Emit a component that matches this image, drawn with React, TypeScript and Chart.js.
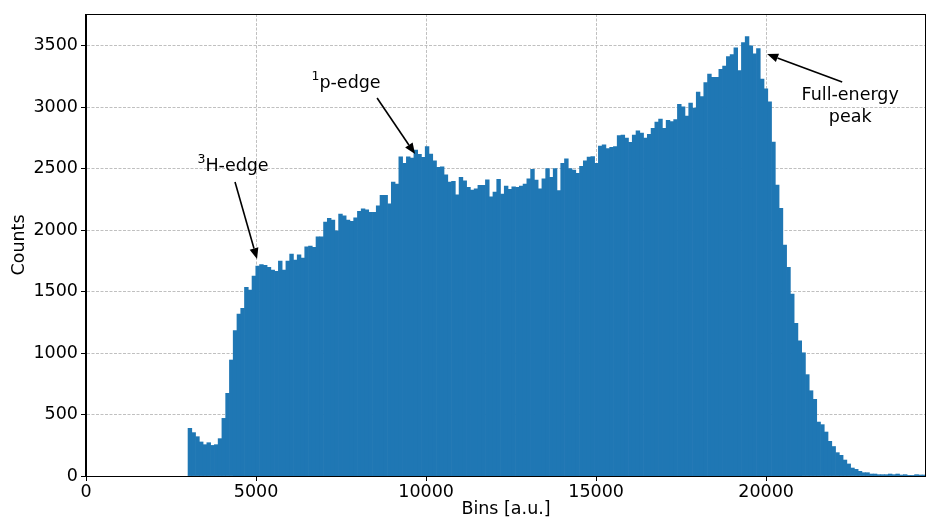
import React, { useEffect, useRef } from 'react';
import { Chart, registerables } from 'chart.js';

Chart.register(...registerables);

// Histogram bins (bin edges start at binStart, constant width)
const binStart = 3000;
const binWidth = 110.7;
const counts = [
  388, 353, 320, 277, 255, 271, 249, 255, 304, 469,
  673, 944, 1183, 1318, 1364, 1535, 1513, 1627, 1709, 1720,
  1714, 1698, 1676, 1665, 1750, 1676, 1750, 1806, 1757, 1801,
  1774, 1866, 1871, 1861, 1947, 1947, 2067, 2097, 2083, 1996,
  2132, 2118, 2083, 2072, 2102, 2154, 2175, 2167, 2145, 2145,
  2199, 2284, 2284, 2216, 2392, 2376, 2598, 2544, 2598, 2587,
  2653, 2617, 2593, 2680, 2620, 2566, 2512, 2517, 2452, 2392,
  2398, 2289, 2430, 2403, 2349, 2327, 2338, 2365, 2365, 2410,
  2273, 2311, 2414, 2295, 2360, 2333, 2354, 2349, 2360, 2376,
  2419, 2495, 2408, 2338, 2419, 2501, 2430, 2501, 2322, 2544,
  2582, 2501, 2490, 2463, 2520, 2565, 2595, 2600, 2545, 2685,
  2695, 2665, 2675, 2680, 2770, 2775, 2750, 2715, 2775, 2810,
  2790, 2750, 2780, 2830, 2880, 2905, 2830, 2895, 2885, 2900,
  3025, 3005, 2930, 3036, 2995, 3125, 3087, 3201, 3272, 3245,
  3245, 3310, 3337, 3413, 3429, 3484, 3299, 3527, 3576, 3500,
  3435, 3478, 3231, 3150, 3045, 2718, 2368, 2178, 1880, 1698,
  1481, 1242, 1101, 1003, 825, 694, 624, 439, 418, 358,
  282, 240, 190, 168, 130, 98, 65, 54, 38, 27,
  27, 16, 16, 11, 11, 11, 16, 11, 16, 8,
  11, 5, 5, 11, 8, 8,
];

const xMin = 0;
const xMax = 24700;
const xTickValues = [0, 5000, 10000, 15000, 20000];
const yMin = 0;
const yMax = 3760;
const yTickValues = [0, 500, 1000, 1500, 2000, 2500, 3000, 3500];

const xTitle = 'Bins [a.u.]';
const yTitle = 'Counts';

// Annotation texts: each line is a list of [text, isSuperscript] parts
const annotationTexts: [string, boolean][][][] = [
  [[['3', true], ['H-edge', false]]],
  [[['1', true], ['p-edge', false]]],
  [[['Full-energy', false]], [['peak', false]]],
];
const annotationTextPos = [
  [4324, 2522],
  [7647, 3198],
  [22471, 3010],
];
const annotationArrowTail = [
  [4382, 2392],
  [8559, 3076],
  [22235, 3206],
];
const annotationArrowTip = [
  [5029, 1766],
  [9676, 2620],
  [20029, 3434],
];

const FONT = '"DejaVu Sans", sans-serif';
const FONT_SIZE = 17.5;
const SUP_SIZE = 12.5;
const BAR_COLOR = '#1f77b4';

const framePlugin = {
  id: 'frame',
  afterDatasetsDraw(chart: any) {
    const { ctx, chartArea } = chart;
    ctx.save();
    ctx.strokeStyle = '#000';
    ctx.lineWidth = 1;
    ctx.strokeRect(
      Math.round(chartArea.left) - 0.5,
      Math.round(chartArea.top) + 0.5,
      Math.round(chartArea.right - chartArea.left),
      Math.round(chartArea.bottom - chartArea.top)
    );
    ctx.restore();
  },
};

const annotationPlugin = {
  id: 'annots',
  afterDraw(chart: any) {
    const { ctx } = chart;
    const xs = chart.scales.x;
    const ys = chart.scales.y;
    ctx.save();
    ctx.fillStyle = '#000';
    ctx.strokeStyle = '#000';
    ctx.textAlign = 'left';
    ctx.textBaseline = 'middle';
    const fontFor = (sup: boolean) => `${sup ? SUP_SIZE : FONT_SIZE}px ${FONT}`;
    annotationTexts.forEach((lines, i) => {
      const cx = xs.getPixelForValue(annotationTextPos[i][0]);
      const cy = ys.getPixelForValue(annotationTextPos[i][1]);
      const lh = 22;
      const startY = cy - ((lines.length - 1) * lh) / 2;
      lines.forEach((parts, j) => {
        let total = 0;
        parts.forEach(([t, sup]) => {
          ctx.font = fontFor(sup);
          total += ctx.measureText(t).width;
        });
        let x = cx - total / 2;
        const y = startY + j * lh;
        parts.forEach(([t, sup]) => {
          ctx.font = fontFor(sup);
          ctx.fillText(t, x, sup ? y - 6 : y);
          x += ctx.measureText(t).width;
        });
      });

      const x0 = xs.getPixelForValue(annotationArrowTail[i][0]);
      const y0 = ys.getPixelForValue(annotationArrowTail[i][1]);
      const x1 = xs.getPixelForValue(annotationArrowTip[i][0]);
      const y1 = ys.getPixelForValue(annotationArrowTip[i][1]);
      const ang = Math.atan2(y1 - y0, x1 - x0);
      const headLen = 11;
      const headW = 4.5;
      const bx = x1 - headLen * Math.cos(ang);
      const by = y1 - headLen * Math.sin(ang);
      ctx.lineWidth = 1.6;
      ctx.beginPath();
      ctx.moveTo(x0, y0);
      ctx.lineTo(bx, by);
      ctx.stroke();
      ctx.beginPath();
      ctx.moveTo(x1, y1);
      ctx.lineTo(bx + headW * Math.sin(ang), by - headW * Math.cos(ang));
      ctx.lineTo(bx - headW * Math.sin(ang), by + headW * Math.cos(ang));
      ctx.closePath();
      ctx.fill();
    });
    ctx.restore();
  },
};

export default function App() {
  const canvasRef = useRef<HTMLCanvasElement | null>(null);

  useEffect(() => {
    if (!canvasRef.current) return;
    const data = counts.map((c, i) => ({ x: binStart + (i + 0.5) * binWidth, y: c }));
    const tickFont = { family: FONT, size: FONT_SIZE };
    const gridCommon = {
      color: '#b0b0b0',
      lineWidth: 0.8,
      tickColor: '#000',
      tickLength: 5,
      tickWidth: 1,
      tickBorderDash: [1, 0],
      offset: false,
    };
    const chart = new Chart(canvasRef.current, {
      type: 'bar',
      data: {
        datasets: [
          {
            data: data as any,
            backgroundColor: BAR_COLOR,
            borderWidth: 0,
            barPercentage: 1,
            categoryPercentage: 1,
          },
        ],
      },
      options: {
        animation: false,
        responsive: false,
        devicePixelRatio: 1,
        layout: { padding: { top: 14, left: 0, right: 0, bottom: 0 } },
        plugins: {
          legend: { display: false },
          tooltip: { enabled: false },
        },
        scales: {
          x: {
            type: 'linear',
            min: xMin,
            max: xMax,
            offset: false,
            afterFit: (s: any) => {
              s.height = 45;
            },
            afterBuildTicks: (s: any) => {
              s.ticks = xTickValues.map((v) => ({ value: v }));
            },
            ticks: {
              color: '#000',
              font: tickFont,
              padding: 1,
              maxRotation: 0,
              autoSkip: false,
              callback: (v: any) => String(v),
            },
            grid: gridCommon,
            border: { display: true, color: '#000', width: 1, dash: [3, 1.5] },
            title: {
              display: true,
              text: xTitle,
              color: '#000',
              font: tickFont,
              padding: { top: 0, bottom: 1 },
            },
          },
          y: {
            type: 'linear',
            min: yMin,
            max: yMax,
            afterFit: (s: any) => {
              s.width = 86;
            },
            afterBuildTicks: (s: any) => {
              s.ticks = yTickValues.map((v) => ({ value: v }));
            },
            ticks: {
              color: '#000',
              font: tickFont,
              padding: 3,
              autoSkip: false,
              callback: (v: any) => String(v),
            },
            grid: gridCommon,
            border: { display: true, color: '#000', width: 1, dash: [3, 1.5] },
            title: {
              display: true,
              text: yTitle,
              color: '#000',
              font: tickFont,
              padding: { top: 9, bottom: 0 },
            },
          },
        },
      },
      plugins: [framePlugin, annotationPlugin],
    });
    return () => chart.destroy();
  }, []);

  return (
    <div style={{ position: 'absolute', left: 0, top: 0, width: 926, height: 521, background: '#fff' }}>
      <canvas ref={canvasRef} width={926} height={521} style={{ display: 'block' }} />
    </div>
  );
}
